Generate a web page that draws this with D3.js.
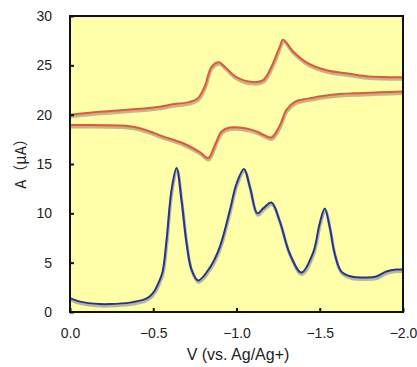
<!DOCTYPE html>
<html>
<head>
<meta charset="utf-8">
<script src="https://cdn.jsdelivr.net/npm/d3@7"></script>
<style>
  body { margin: 0; background: #fff; }
  text { font-family: "Liberation Sans", Arial, sans-serif; }
</style>
</head>
<body>
<svg id="chart" width="417" height="367"></svg>
<script>
// blue trace (DPV-like)
const blueV = [0, -0.06, -0.18, -0.24, -0.36, -0.45, -0.48, -0.51, -0.53, -0.555, -0.58, -0.61, -0.64, -0.67, -0.70, -0.73, -0.77, -0.84, -0.90, -0.96, -1.00, -1.045, -1.08, -1.125, -1.16, -1.21, -1.26, -1.32, -1.39, -1.46, -1.50, -1.53, -1.56, -1.59, -1.63, -1.69, -1.78, -1.84, -1.90, -1.96, -2.0]
const blueI = [1.4, 1.05, 0.8, 0.8, 0.95, 1.3, 1.6, 2.2, 2.9, 4.0, 7.3, 12.4, 14.6, 11.3, 7.0, 4.3, 3.2, 4.5, 6.6, 10.3, 13.0, 14.5, 12.7, 10.0, 10.5, 11.1, 9.2, 5.9, 4.0, 6.0, 9.0, 10.5, 8.6, 5.9, 4.1, 3.6, 3.5, 3.6, 4.1, 4.3, 4.3]

// red CV, upper branch
const upperV = [0, -0.18, -0.42, -0.54, -0.6, -0.72, -0.77, -0.81, -0.85, -0.895, -0.93, -1.0, -1.1, -1.16, -1.21, -1.26, -1.28, -1.34, -1.42, -1.54, -1.66, -1.78, -2.0]
const upperI = [20.0, 20.3, 20.6, 20.8, 21.0, 21.3, 21.7, 22.9, 24.85, 25.3, 24.85, 23.8, 23.3, 23.5, 24.85, 26.9, 27.6, 26.4, 25.3, 24.5, 24.2, 23.9, 23.8]

// red CV, lower branch
const lowerV = [0, -0.3, -0.4, -0.48, -0.54, -0.68, -0.78, -0.83, -0.87, -0.91, -0.96, -1.06, -1.12, -1.17, -1.21, -1.26, -1.30, -1.35, -1.42, -1.56, -1.76, -2.0]
const lowerI = [18.95, 18.9, 18.7, 18.3, 17.9, 17.1, 16.2, 15.6, 16.9, 18.3, 18.7, 18.6, 18.3, 17.9, 17.7, 18.9, 20.5, 21.3, 21.6, 22.0, 22.2, 22.35]

const xTicks = [0, -0.5, -1.0, -1.5, -2.0]
const yTicks = [0, 5, 10, 15, 20, 25, 30]

const plotL = 70, plotR = 403, plotT = 16, plotB = 312

const svg = d3.select('#chart')

const x = d3.scaleLinear().domain([0, -2]).range([plotL, plotR])
const y = d3.scaleLinear().domain([0, 30]).range([plotB, plotT])

svg.append('rect')
  .attr('x', plotL).attr('y', plotT)
  .attr('width', plotR - plotL).attr('height', plotB - plotT)
  .attr('fill', '#ffffaa')

const line = d3.line()
  .x(d => x(d[0]))
  .y(d => y(d[1]))
  .curve(d3.curveCatmullRom.alpha(0.5))

const series = [
  { v: upperV, i: upperI, color: '#e8523e' },
  { v: lowerV, i: lowerI, color: '#e8523e' },
  { v: blueV, i: blueI, color: '#2233a0' }
]

series.forEach(s => {
  const pts = s.v.map((v, k) => [v, s.i[k]])
  svg.append('path')
    .attr('d', line(pts))
    .attr('transform', 'translate(0.5,2)')
    .attr('fill', 'none')
    .attr('stroke', '#a3a37a')
    .attr('stroke-opacity', 0.75)
    .attr('stroke-width', 3)
  svg.append('path')
    .attr('d', line(pts))
    .attr('fill', 'none')
    .attr('stroke', s.color)
    .attr('stroke-width', 2)
})

// axes with inward ticks
const fmt = d => d === 0 ? '0.0' : d3.format('.1f')(d)
svg.append('g')
  .attr('transform', `translate(0,${plotB})`)
  .call(d3.axisBottom(x).tickValues(xTicks).tickSize(-4).tickPadding(16).tickFormat(fmt))
  .call(g => g.select('.domain').remove())
  .call(g => g.selectAll('line').attr('stroke-width', 2).attr('stroke', '#111'))
  .call(g => g.selectAll('text').attr('font-size', 14).attr('fill', '#222'))

svg.append('g')
  .attr('transform', `translate(${plotL},0)`)
  .call(d3.axisLeft(y).tickValues(yTicks).tickSize(-4).tickPadding(18))
  .call(g => g.select('.domain').remove())
  .call(g => g.selectAll('line').attr('stroke-width', 2).attr('stroke', '#111'))
  .call(g => g.selectAll('text').attr('font-size', 14).attr('fill', '#222'))

svg.append('rect')
  .attr('x', plotL).attr('y', plotT)
  .attr('width', plotR - plotL).attr('height', plotB - plotT)
  .attr('fill', 'none')
  .attr('stroke', '#111')
  .attr('stroke-width', 2)

svg.append('text')
  .attr('x', 238)
  .attr('y', 360)
  .attr('text-anchor', 'middle')
  .attr('font-size', 16)
  .attr('fill', '#222')
  .text('V (vs. Ag/Ag+)')

svg.append('text')
  .attr('transform', 'translate(26,160) rotate(-90)')
  .attr('text-anchor', 'middle')
  .attr('font-size', 15)
  .attr('fill', '#222')
  .style('font-family', '"Noto Sans CJK JP", sans-serif')
  .text('A（μA）')
</script>
</body>
</html>
